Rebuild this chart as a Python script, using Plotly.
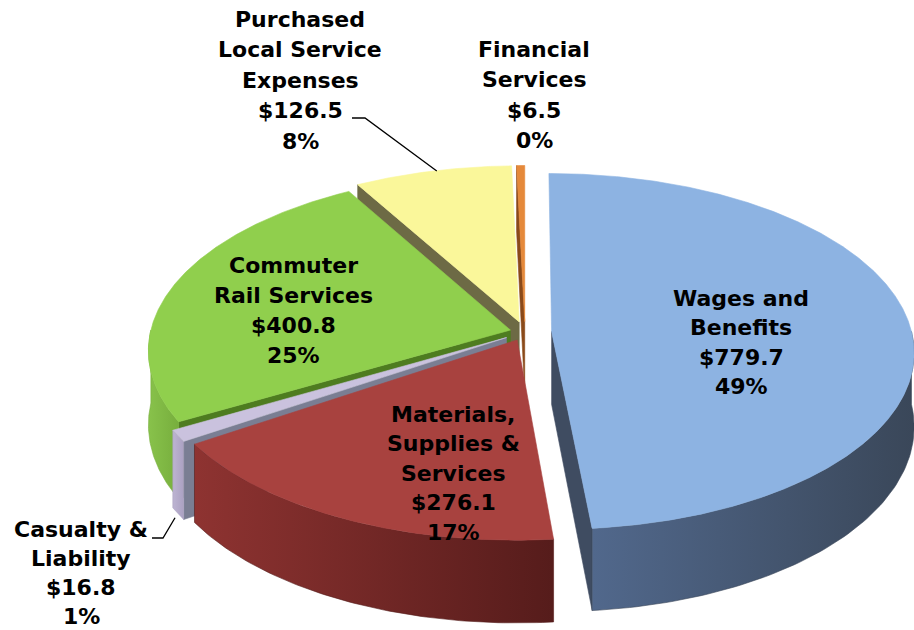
import numpy as np
import plotly.graph_objects as go

# ---------------- data ----------------
categories = ["Wages and Benefits", "Materials, Supplies & Services", "Casualty & Liability",
              "Commuter Rail Services", "Purchased Local Service Expenses", "Financial Services"]
label_names = [["Wages and", "Benefits"], ["Materials,", "Supplies &", "Services"], ["Casualty &", "Liability"],
               ["Commuter", "Rail Services"], ["Purchased", "Local Service", "Expenses"], ["Financial", "Services"]]
values = [779.7, 276.1, 16.8, 400.8, 126.5, 6.5]

# ---------------- styling / geometry ----------------
top_colors = ["#8DB3E2", "#A8423F", "#CAC2DE", "#90CF4D", "#FAF79A", "#E5893A"]
wall_colors = [("#51688C", "#3A4759"), ("#8E3331", "#561C1B"), ("#BDB4D2", "#ABA1C2"),
               ("#88C24B", "#77AE3D"), ("#8F8C55", "#7A774A"), ("#B8611F", "#9A4E18")]
cut_colors = ["#3F4C61", "#6E2524", "#7A7E93", "#4E7C20", "#6D6A45", "#8A4A1A"]
pulls = [0.074, 0.05, 0.06, 0.042, 0.06, 0.06]

CX, CY = 525.0, 332.0
A, B = 360.0, 175.8
K = 0.1125
D = 73.0
W, H = 914, 630


def proj(u, v, h):
    s = 1.0 / (1.0 - K * v)
    return CX + A * u * s, CY + (B * v + D * h) * s


total = sum(values)
fracs = [v / total for v in values]
bounds = np.concatenate([[0.0], np.cumsum(fracs)]) * 2 * np.pi

fig = go.Figure()


def poly(xs, ys, color, grad=None):
    kw = dict(x=list(xs) + [xs[0]], y=list(ys) + [ys[0]], mode="lines", fill="toself",
              fillcolor=color, line=dict(color=color, width=0.6),
              hoverinfo="skip", showlegend=False)
    if grad is not None:
        kw["fillgradient"] = dict(type="horizontal", colorscale=[[0, grad[0]], [1, grad[1]]])
        kw["line"] = dict(color=grad[1], width=0.6)
    fig.add_trace(go.Scatter(**kw))


def rim(t, tm, p, h):
    u = np.sin(t) + p * np.sin(tm)
    v = -np.cos(t) - p * np.cos(tm)
    return proj(u, v, h)


def apex(tm, p, h):
    return proj(p * np.sin(tm), -p * np.cos(tm), h)


# drawing order back to front
order = [5, 4, 3, 2, 1, 0]
rim_mid = {}
for i in order:
    t0, t1 = bounds[i], bounds[i + 1]
    tm = 0.5 * (t0 + t1)
    p = pulls[i]
    ax0, ay0 = apex(tm, p, 0)
    ax1, ay1 = apex(tm, p, 1)
    if np.sin(t0) < -1e-6:
        x0, y0 = rim(t0, tm, p, 0)
        x1, y1 = rim(t0, tm, p, 1)
        poly([ax0, x0, x1, ax1], [ay0, y0, y1, ay1], cut_colors[i])
    if np.sin(t1) > 1e-6:
        x0, y0 = rim(t1, tm, p, 0)
        x1, y1 = rim(t1, tm, p, 1)
        poly([ax0, x0, x1, ax1], [ay0, y0, y1, ay1], cut_colors[i])
    w0, w1 = max(t0, np.pi / 2), min(t1, 3 * np.pi / 2)
    if w1 > w0:
        ts = np.linspace(w0, w1, 80)
        tx, ty = rim(ts, tm, p, 0)
        bx, by = rim(ts, tm, p, 1)
        poly(list(tx) + list(bx[::-1]), list(ty) + list(by[::-1]), wall_colors[i][0], wall_colors[i])
    ts = np.linspace(t0, t1, max(4, int(200 * (t1 - t0))))
    tx, ty = rim(ts, tm, p, 0)
    poly([ax0] + list(tx), [ay0] + list(ty), top_colors[i])
    rim_mid[i] = (rim(tm, tm, p, 0), rim(tm, tm, p, 1))

# ---------------- labels ----------------
# (center x, first line y, line spacing)
label_pos = {0: (741, 298, 29.5), 1: (453, 414, 29.5), 2: (81, 529, 29.2),
             3: (293, 265, 30.2), 4: (300, 19, 30.5), 5: (534, 49, 30.5)}
font = dict(family="DejaVu Sans", size=22, color="#000000")
for i in range(len(values)):
    pct = f"{round(fracs[i] * 100)}%"
    lines = label_names[i] + [f"${values[i]:.1f}", pct]
    x, y0, dy = label_pos[i]
    for j, ln in enumerate(lines):
        fig.add_annotation(x=x, y=y0 + j * dy, xref="x", yref="y", text=f"<b>{ln}</b>",
                           showarrow=False, font=font, xanchor="center", yanchor="middle")

# leader lines
(px, py), _ = rim_mid[4]
fig.add_trace(go.Scatter(x=[352, 365, px + 4], y=[118, 118, py], mode="lines",
                         line=dict(color="#000000", width=1.3), hoverinfo="skip", showlegend=False))
_, (cx_, cy_) = rim_mid[2]
fig.add_trace(go.Scatter(x=[152, 163, cx_ - 3], y=[538, 538, cy_ + 4], mode="lines",
                         line=dict(color="#000000", width=1.3), hoverinfo="skip", showlegend=False))

fig.update_layout(
    width=W, height=H, margin=dict(l=0, r=0, t=0, b=0),
    paper_bgcolor="white", plot_bgcolor="white",
    xaxis=dict(range=[0, W], visible=False, fixedrange=True),
    yaxis=dict(range=[H, 0], visible=False, fixedrange=True),
    showlegend=False,
)
fig.write_html("out.html", config={"displayModeBar": False},
               post_script="document.body.style.margin='0px';")
